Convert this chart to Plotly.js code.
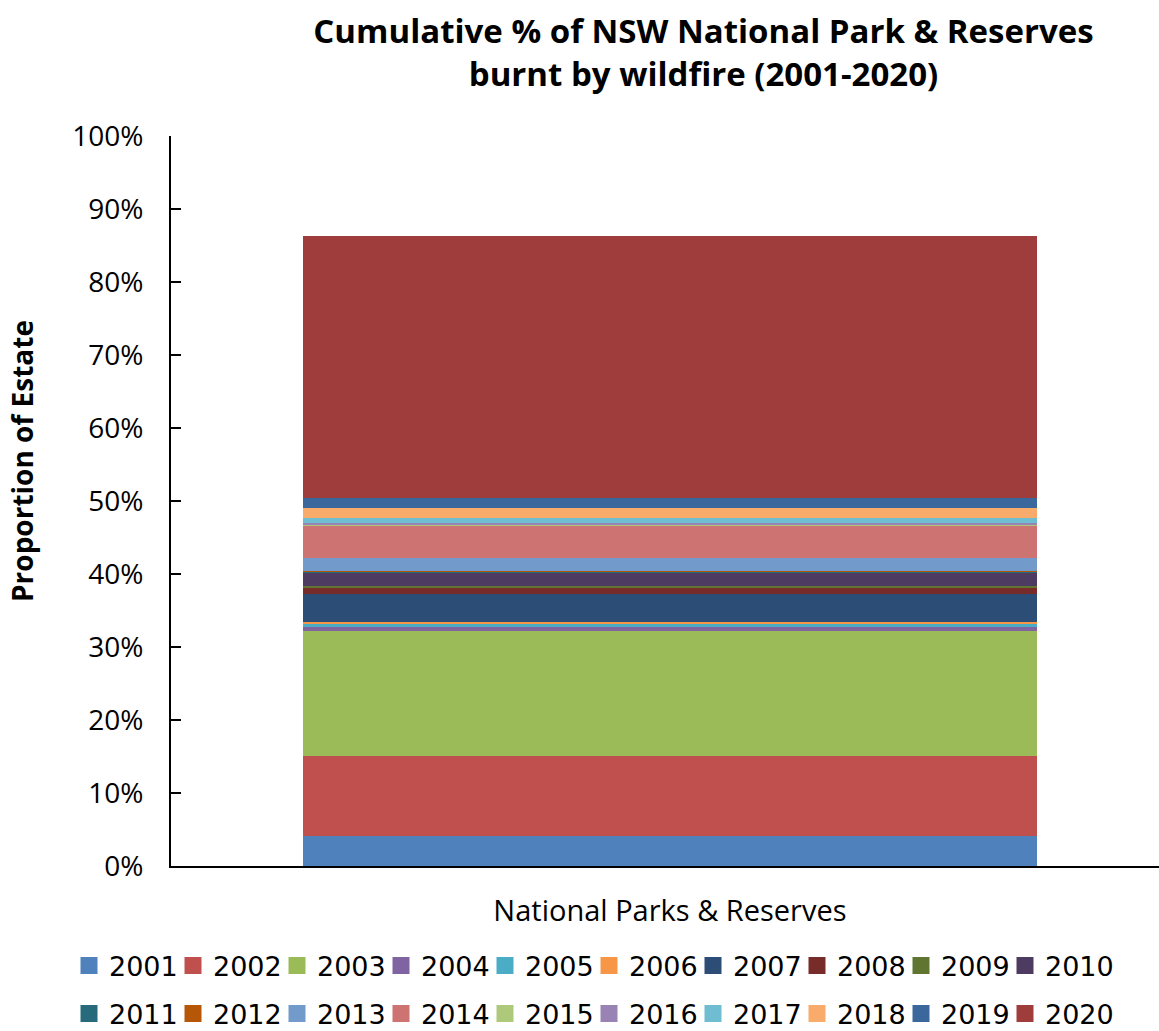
<!DOCTYPE html>
<html>
<head>
<meta charset="utf-8">
<script src="https://cdn.plot.ly/plotly-3.0.1.min.js"></script>
<style>html,body{margin:0;padding:0;background:#fff;}#chart{width:1159px;height:1031px;}</style>
</head>
<body>
<div id="chart"></div>
<script>
const category = ["National Parks & Reserves"];
const years = ["2001","2002","2003","2004","2005","2006","2007","2008","2009","2010",
               "2011","2012","2013","2014","2015","2016","2017","2018","2019","2020"];
// percentage of estate burnt each year
const burnt = [4.15, 10.96, 17.12, 0.55, 0.34, 0.34, 3.75, 0.82, 0.36, 1.74,
               0.14, 0.14, 1.78, 4.45, 0.07, 0.27, 0.64, 1.45, 1.29, 35.97];
const colors = ["#4F81BD","#C0504D","#9BBB59","#8064A2","#4BACC6","#F79646","#2C4D75","#772C2A","#5F7530","#4D3B62",
                "#276A7C","#B65708","#729ACA","#CD7371","#AFC97A","#9983B5","#6FBDD1","#F9AB6B","#3A679C","#9E3D3B"];
const yTicks = [0,10,20,30,40,50,60,70,80,90,100];

// bar segments (legend shown by separate entries with larger swatches)
const barTraces = years.map((yr, i) => ({
  type: "bar",
  name: yr,
  x: category,
  y: [burnt[i] / 100],
  marker: {color: colors[i], line: {width: 0}},
  showlegend: false,
  hoverinfo: "name+y"
}));
const legendTraces = years.map((yr, i) => ({
  type: "bar",
  name: yr,
  x: category,
  y: [null],
  marker: {color: colors[i], line: {width: 5, color: colors[i]}},
  legend: i < 10 ? "legend" : "legend2",
  showlegend: true,
  hoverinfo: "skip"
}));
// invisible trailing spacer entries so the last label of each row is not clipped
const spacerTraces = ["legend", "legend2"].map(lg => ({
  type: "bar",
  name: " ",
  x: category,
  y: [null],
  marker: {color: "rgba(0,0,0,0)", line: {width: 0}},
  legend: lg,
  showlegend: true,
  hoverinfo: "skip"
}));

const legendCommon = {
  orientation: "h",
  xanchor: "left",
  yanchor: "middle",
  font: {family: "DejaVu Sans, sans-serif", size: 27, color: "#000"},
  itemwidth: 30,
  entrywidth: 59,
  traceorder: "normal",
  bgcolor: "rgba(0,0,0,0)",
  borderwidth: 0
};

const layout = {
  width: 1159,
  height: 1031,
  margin: {l: 171, r: 0, t: 136, b: 165, autoexpand: false},
  paper_bgcolor: "#fff",
  plot_bgcolor: "#fff",
  barmode: "stack",
  bargap: 0.257,
  showlegend: true,
  title: {
    text: "<b>Cumulative % of NSW National Park & Reserves<br>burnt by wildfire (2001-2020)</b>",
    font: {family: "Open Sans, sans-serif", size: 33, color: "#000"},
    x: 0.607, xref: "container", xanchor: "center",
    y: 1 - 43 / 1031, yref: "container", yanchor: "top"
  },
  xaxis: {
    type: "category",
    range: [-0.505, 0.495],
    showline: true, linecolor: "#000", linewidth: 2,
    ticks: "", showgrid: false, zeroline: false,
    tickfont: {family: "Open Sans, sans-serif", size: 29, color: "#000"},
    ticklabelstandoff: 18
  },
  yaxis: {
    range: [0, 1],
    tickvals: yTicks.map(v => v / 100),
    ticktext: yTicks.map(v => v + "%"),
    showline: true, linecolor: "#000", linewidth: 2,
    ticks: "inside", ticklen: 10, tickwidth: 2, tickcolor: "#000",
    showgrid: false, zeroline: false,
    tickfont: {family: "Open Sans, sans-serif", size: 28, color: "#000"},
    ticklabelstandoff: 20
  },
  annotations: [{
    text: "<b>Proportion of Estate</b>",
    xref: "paper", yref: "paper",
    x: (22 - 171) / 988, y: (866 - 461) / 730,
    xanchor: "center", yanchor: "middle",
    textangle: -90, showarrow: false,
    font: {family: "Open Sans, sans-serif", size: 28, color: "#000"}
  }],
  legend: Object.assign({}, legendCommon, {x: (69 - 171) / 988, y: (866 - 966) / 730}),
  legend2: Object.assign({}, legendCommon, {x: (69 - 171) / 988, y: (866 - 1014) / 730})
};

Plotly.newPlot("chart", barTraces.concat(legendTraces, spacerTraces), layout, {displayModeBar: false, staticPlot: true});
</script>
</body>
</html>
